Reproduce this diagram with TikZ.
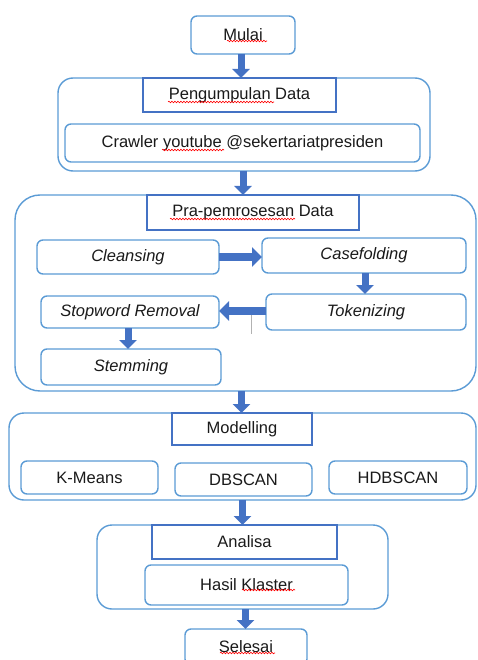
\documentclass[tikz,border=0pt]{standalone}
\usepackage{fontspec}
\setmainfont{Liberation Sans}
\usetikzlibrary{arrows.meta,decorations.pathmorphing,calc}
\definecolor{boxblue}{HTML}{5B9BD5}
\definecolor{headblue}{HTML}{4472C4}
\definecolor{arrowblue}{HTML}{4472C4}
\definecolor{txt}{HTML}{1A1A1A}
\tikzset{
  base/.style={inner sep=0pt, outer sep=0pt, align=center, text=txt,
    font=\fontsize{16.5}{19}\selectfont},
  rbox/.style={base, draw=boxblue, line width=1.4pt, rounded corners=6pt, fill=white},
  cont/.style={base, draw=boxblue, line width=1.4pt, rounded corners=15pt},
  hbox/.style={base, draw=headblue, line width=1.1pt, fill=white},
  itbox/.style={rbox, font=\fontsize{16.5}{19}\selectfont\itshape},
  barrow/.style={draw=arrowblue, line width=7pt,
    -{Triangle[width=17pt,length=9pt,fill=arrowblue]}},
  harrow/.style={draw=arrowblue, line width=8pt,
    -{Triangle[width=19pt,length=10pt,fill=arrowblue]}},
  spell/.style={draw=red, line width=0.6pt, decorate,
    decoration={snake, amplitude=0.8pt, segment length=3pt}}
}
\begin{document}
\begin{tikzpicture}[x=1pt,y=-1pt]
\useasboundingbox (0,0) rectangle (477,660);
\clip (0,0) rectangle (477,660);
% containers
\node[cont, minimum width=372pt, minimum height=93pt] (pcont) at (244,124.5) {};
\node[cont, rounded corners=25pt, minimum width=461pt, minimum height=196pt] (pracont) at (245.5,293) {};
\node[cont, minimum width=467pt, minimum height=87pt] (modcont) at (242.5,456.5) {};
\node[cont, minimum width=291pt, minimum height=84pt] (anacont) at (242.5,567) {};
% start
\node[rbox, minimum width=104pt, minimum height=38pt] (mulai) at (243,35) {Mulai};
% Pengumpulan
\node[hbox, minimum width=193pt, minimum height=34pt] (phead) at (239.5,95) {Pengumpulan Data};
\node[rbox, minimum width=355pt, minimum height=38pt] (crawler) at (242.5,143) {Crawler youtube @sekertariatpresiden};
% Pra-pemrosesan
\node[hbox, minimum width=212pt, minimum height=35pt] (prahead) at (253,212.5) {Pra-pemrosesan Data};
\node[itbox, minimum width=182pt, minimum height=34pt] (clean) at (128,257) {Cleansing};
\node[itbox, minimum width=204pt, minimum height=35pt] (case) at (364,255.5) {Casefolding};
\node[itbox, minimum width=200pt, minimum height=36pt] (token) at (366,312) {Tokenizing};
\node[itbox, minimum width=178pt, minimum height=32pt] (stop) at (130,312) {Stopword Removal};
\node[itbox, minimum width=180pt, minimum height=36pt] (stem) at (131,367) {Stemming};
\coordinate (gtop) at (251.5,313);
\coordinate (gbot) at (251.5,334);
\draw[gray!60, line width=0.6pt] (gtop) -- (gbot);
% Modelling
\node[hbox, minimum width=140pt, minimum height=32pt] (modhead) at (242,429) {Modelling};
\node[rbox, minimum width=137pt, minimum height=33pt] (kmeans) at (89.5,477.5) {K-Means};
\node[rbox, minimum width=137pt, minimum height=33pt] (dbscan) at (243.5,479.5) {DBSCAN};
\node[rbox, minimum width=138pt, minimum height=33pt] (hdbscan) at (398,477.5) {HDBSCAN};
% Analisa
\node[hbox, minimum width=185pt, minimum height=34pt] (anahead) at (244.5,542) {Analisa};
\node[rbox, minimum width=203pt, minimum height=40pt] (hasil) at (246.5,585) {Hasil Klaster};
% end
\node[rbox, minimum width=122pt, minimum height=36pt] (selesai) at (246,647) {Selesai};
% arrows
\draw[barrow] ([xshift=-2pt]mulai.south) -- ([xshift=-2pt]mulai.south |- pcont.north);
\draw[barrow] ([xshift=-1pt]pcont.south) -- ([xshift=-1pt]pcont.south |- pracont.north);
\draw[barrow] ([xshift=-4pt]pracont.south) -- ([xshift=-4pt]pracont.south |- modcont.north);
\draw[barrow] (modcont.south) -- (modcont.south |- anacont.north);
\draw[barrow] ([xshift=3pt]anacont.south) -- ([xshift=3pt]anacont.south |- selesai.north);
\draw[harrow] (clean.east) -- (clean.east -| case.west);
\draw[barrow] ([xshift=1pt]case.south) -- ([xshift=1pt]case.south |- token.north);
\draw[harrow] ([yshift=1pt]token.west) -- ([yshift=1pt]token.west -| stop.east);
\draw[barrow] ([xshift=-2pt]stop.south) -- ([xshift=-2pt]stop.south |- stem.north);
% spell-check underlines
\coordinate (s1a) at (227,41); \coordinate (s1b) at (267,41);
\coordinate (s2a) at (168,102); \coordinate (s2b) at (274,102);
\coordinate (s3a) at (162,150); \coordinate (s3b) at (224,150);
\coordinate (s4a) at (170,219); \coordinate (s4b) at (295,219);
\coordinate (s5a) at (242,590); \coordinate (s5b) at (295,590);
\coordinate (s6a) at (220,653); \coordinate (s6b) at (275,653);
\draw[spell] (s1a) -- (s1b);
\draw[spell] (s2a) -- (s2b);
\draw[spell] (s3a) -- (s3b);
\draw[spell] (s4a) -- (s4b);
\draw[spell] (s5a) -- (s5b);
\draw[spell] (s6a) -- (s6b);
\end{tikzpicture}
\end{document}
